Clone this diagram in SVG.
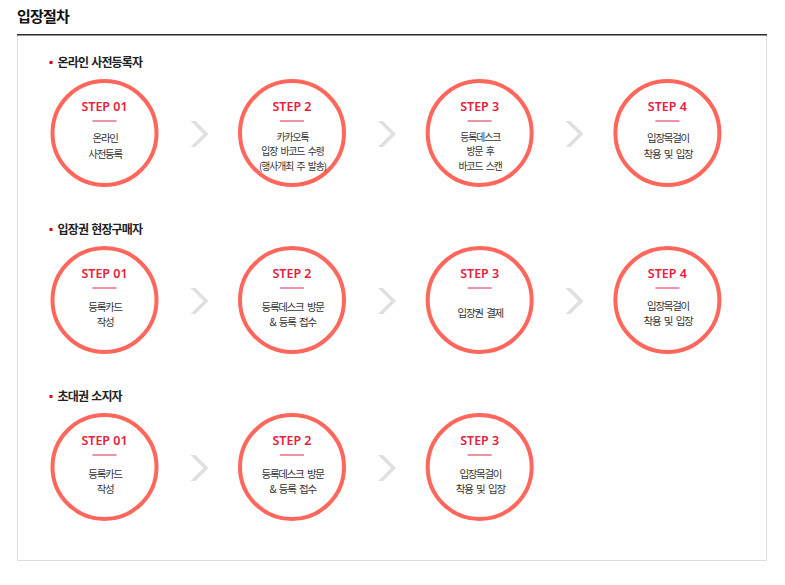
<svg xmlns="http://www.w3.org/2000/svg" xmlns:xlink="http://www.w3.org/1999/xlink" width="785" height="585" viewBox="0 0 785 585">
<style>
.title{font-family:"Noto Sans CJK KR","Noto Sans",sans-serif;font-size:15px;font-weight:700;fill:#111;letter-spacing:-0.8px}
.sec{font-family:"Noto Sans CJK KR","Noto Sans",sans-serif;font-size:12px;font-weight:700;fill:#222;letter-spacing:-0.8px;word-spacing:1px}
.bullet{fill:#e60012}
.ring{fill:#fff;stroke:#ff675d;stroke-width:4}
.step{font-family:"Noto Sans","Noto Sans CJK KR",sans-serif;font-size:12.5px;font-weight:600;fill:#e8203c;text-anchor:middle}
.rule{stroke:#e8234a;stroke-width:1}
.body{font-family:"Noto Sans CJK KR","Noto Sans",sans-serif;font-size:10.5px;fill:#333;text-anchor:middle;letter-spacing:-1.3px;word-spacing:2.5px}
.body3{font-size:9.8px;letter-spacing:-1px;word-spacing:2px}
.chev{fill:#e0e0e0}
</style>
<defs>
<polygon id="chevron" points="-8,-13 -3,-13 10,0 -3,13 -8,13 5,0"/>
</defs>
<rect width="785" height="585" fill="#fff"/>
<text class="title" x="17" y="22">입장절차</text>
<rect x="17.5" y="34.5" width="749" height="526" fill="none" stroke="#dcdcdc" stroke-width="1"/>
<rect x="17" y="34" width="750" height="1.5" fill="#2b2b2b"/>

<g id="section-1">
<rect class="bullet" x="49.5" y="61" width="3" height="3"/>
<text class="sec" x="57.5" y="67">온라인 사전등록자</text>
</g>
<g id="section-2">
<rect class="bullet" x="49.5" y="228" width="3" height="3"/>
<text class="sec" x="57.5" y="234">입장권 현장구매자</text>
</g>
<g id="section-3">
<rect class="bullet" x="49.5" y="395" width="3" height="3"/>
<text class="sec" x="57.5" y="401">초대권 소지자</text>
</g>

<g id="connectors">
<use class="chev" xlink:href="#chevron" x="198.5" y="134"/>
<use class="chev" xlink:href="#chevron" x="386" y="134"/>
<use class="chev" xlink:href="#chevron" x="573.5" y="134"/>
<use class="chev" xlink:href="#chevron" x="198.5" y="301"/>
<use class="chev" xlink:href="#chevron" x="386" y="301"/>
<use class="chev" xlink:href="#chevron" x="573.5" y="301"/>
<use class="chev" xlink:href="#chevron" x="198.5" y="468"/>
<use class="chev" xlink:href="#chevron" x="386" y="468"/>
</g>

<g id="r1-step1">
<circle class="ring" cx="104.5" cy="133" r="52"/>
<text class="step" x="104.5" y="110.5">STEP 01</text>
<line class="rule" x1="92.5" y1="121" x2="116.5" y2="121"/>
<text class="body" x="105.1" y="142">온라인</text>
<text class="body" x="105.1" y="158">사전등록</text>
</g>
<g id="r1-step2">
<circle class="ring" cx="292" cy="133" r="52"/>
<text class="step" x="292" y="110.5">STEP 2</text>
<line class="rule" x1="280" y1="121" x2="304" y2="121"/>
<text class="body body3" x="292.5" y="141">카카오톡</text>
<text class="body body3" x="292.5" y="155.3">입장 바코드 수령</text>
<text class="body body3" x="292.5" y="169.6">(행사개최 주 발송)</text>
</g>
<g id="r1-step3">
<circle class="ring" cx="479.7" cy="133" r="52"/>
<text class="step" x="479.7" y="110.5">STEP 3</text>
<line class="rule" x1="467.7" y1="121" x2="491.7" y2="121"/>
<text class="body body3" x="480.2" y="141">등록데스크</text>
<text class="body body3" x="480.2" y="155.3">방문 후</text>
<text class="body body3" x="480.2" y="169.6">바코드 스캔</text>
</g>
<g id="r1-step4">
<circle class="ring" cx="667.4" cy="133" r="52"/>
<text class="step" x="667.4" y="110.5">STEP 4</text>
<line class="rule" x1="655.4" y1="121" x2="679.4" y2="121"/>
<text class="body" x="668" y="142">입장목걸이</text>
<text class="body" x="668" y="158">착용 및 입장</text>
</g>

<g id="r2-step1">
<circle class="ring" cx="104.5" cy="300" r="52"/>
<text class="step" x="104.5" y="277.5">STEP 01</text>
<line class="rule" x1="92.5" y1="288" x2="116.5" y2="288"/>
<text class="body" x="105.1" y="310.5">등록카드</text>
<text class="body" x="105.1" y="326">작성</text>
</g>
<g id="r2-step2">
<circle class="ring" cx="292" cy="300" r="52"/>
<text class="step" x="292" y="277.5">STEP 2</text>
<line class="rule" x1="280" y1="288" x2="304" y2="288"/>
<text class="body" x="292.6" y="310.5">등록데스크 방문</text>
<text class="body" x="292.6" y="326">&amp; 등록 접수</text>
</g>
<g id="r2-step3">
<circle class="ring" cx="479.7" cy="300" r="52"/>
<text class="step" x="479.7" y="277.5">STEP 3</text>
<line class="rule" x1="467.7" y1="288" x2="491.7" y2="288"/>
<text class="body" x="480.3" y="317">입장권 결제</text>
</g>
<g id="r2-step4">
<circle class="ring" cx="667.4" cy="300" r="52"/>
<text class="step" x="667.4" y="277.5">STEP 4</text>
<line class="rule" x1="655.4" y1="288" x2="679.4" y2="288"/>
<text class="body" x="668" y="309.5">입장목걸이</text>
<text class="body" x="668" y="325">착용 및 입장</text>
</g>

<g id="r3-step1">
<circle class="ring" cx="104.5" cy="467" r="52"/>
<text class="step" x="104.5" y="444.5">STEP 01</text>
<line class="rule" x1="92.5" y1="455" x2="116.5" y2="455"/>
<text class="body" x="105.1" y="477.5">등록카드</text>
<text class="body" x="105.1" y="493">작성</text>
</g>
<g id="r3-step2">
<circle class="ring" cx="292" cy="467" r="52"/>
<text class="step" x="292" y="444.5">STEP 2</text>
<line class="rule" x1="280" y1="455" x2="304" y2="455"/>
<text class="body" x="292.6" y="477.5">등록데스크 방문</text>
<text class="body" x="292.6" y="493">&amp; 등록 접수</text>
</g>
<g id="r3-step3">
<circle class="ring" cx="479.7" cy="467" r="52"/>
<text class="step" x="479.7" y="444.5">STEP 3</text>
<line class="rule" x1="467.7" y1="455" x2="491.7" y2="455"/>
<text class="body" x="480.3" y="477.5">입장목걸이</text>
<text class="body" x="480.3" y="493">착용 및 입장</text>
</g>
</svg>
